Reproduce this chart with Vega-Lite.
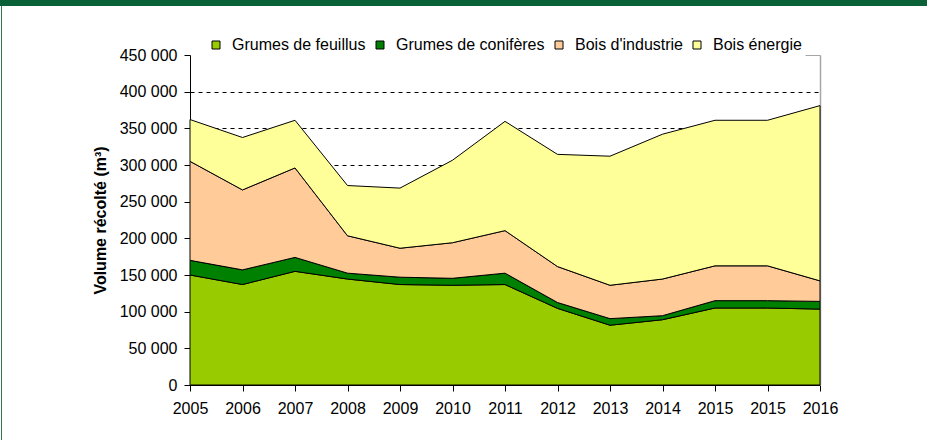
{
  "$schema": "https://vega.github.io/schema/vega-lite/v6.json",
  "padding": 0,
  "background": "white",
  "spacing": 0,
  "bounds": "flush",
  "config": {
    "font": "Liberation Sans",
    "locale": {"number": {"decimal": ",", "thousands": " ", "grouping": [3], "currency": ["", " €"]}},
    "view": {"stroke": null},
    "axis": {"labelFont": "Liberation Sans", "titleFont": "Liberation Sans", "labelColor": "black", "titleColor": "black", "labelFontSize": 16, "titleFontSize": 16, "domainColor": "black", "tickColor": "black"}
  },
  "datasets": {
    "vol": [
      {"periode": "2005", "type": "Grumes de feuillus", "ordre": 1, "volume": 150000},
      {"periode": "2005", "type": "Grumes de conifères", "ordre": 2, "volume": 20000},
      {"periode": "2005", "type": "Bois d'industrie", "ordre": 3, "volume": 135000},
      {"periode": "2005", "type": "Bois énergie", "ordre": 4, "volume": 57000},
      {"periode": "2006", "type": "Grumes de feuillus", "ordre": 1, "volume": 137000},
      {"periode": "2006", "type": "Grumes de conifères", "ordre": 2, "volume": 20000},
      {"periode": "2006", "type": "Bois d'industrie", "ordre": 3, "volume": 109000},
      {"periode": "2006", "type": "Bois énergie", "ordre": 4, "volume": 71500},
      {"periode": "2007", "type": "Grumes de feuillus", "ordre": 1, "volume": 155000},
      {"periode": "2007", "type": "Grumes de conifères", "ordre": 2, "volume": 19000},
      {"periode": "2007", "type": "Bois d'industrie", "ordre": 3, "volume": 122000},
      {"periode": "2007", "type": "Bois énergie", "ordre": 4, "volume": 65000},
      {"periode": "2008", "type": "Grumes de feuillus", "ordre": 1, "volume": 144500},
      {"periode": "2008", "type": "Grumes de conifères", "ordre": 2, "volume": 8000},
      {"periode": "2008", "type": "Bois d'industrie", "ordre": 3, "volume": 51000},
      {"periode": "2008", "type": "Bois énergie", "ordre": 4, "volume": 68500},
      {"periode": "2009", "type": "Grumes de feuillus", "ordre": 1, "volume": 137000},
      {"periode": "2009", "type": "Grumes de conifères", "ordre": 2, "volume": 10000},
      {"periode": "2009", "type": "Bois d'industrie", "ordre": 3, "volume": 39500},
      {"periode": "2009", "type": "Bois énergie", "ordre": 4, "volume": 82000},
      {"periode": "2010", "type": "Grumes de feuillus", "ordre": 1, "volume": 136000},
      {"periode": "2010", "type": "Grumes de conifères", "ordre": 2, "volume": 9500},
      {"periode": "2010", "type": "Bois d'industrie", "ordre": 3, "volume": 48500},
      {"periode": "2010", "type": "Bois énergie", "ordre": 4, "volume": 112500},
      {"periode": "2011", "type": "Grumes de feuillus", "ordre": 1, "volume": 137000},
      {"periode": "2011", "type": "Grumes de conifères", "ordre": 2, "volume": 15500},
      {"periode": "2011", "type": "Bois d'industrie", "ordre": 3, "volume": 58000},
      {"periode": "2011", "type": "Bois énergie", "ordre": 4, "volume": 149000},
      {"periode": "2012", "type": "Grumes de feuillus", "ordre": 1, "volume": 104500},
      {"periode": "2012", "type": "Grumes de conifères", "ordre": 2, "volume": 8000},
      {"periode": "2012", "type": "Bois d'industrie", "ordre": 3, "volume": 49000},
      {"periode": "2012", "type": "Bois énergie", "ordre": 4, "volume": 153000},
      {"periode": "2013", "type": "Grumes de feuillus", "ordre": 1, "volume": 81500},
      {"periode": "2013", "type": "Grumes de conifères", "ordre": 2, "volume": 9000},
      {"periode": "2013", "type": "Bois d'industrie", "ordre": 3, "volume": 45500},
      {"periode": "2013", "type": "Bois énergie", "ordre": 4, "volume": 176000},
      {"periode": "2014", "type": "Grumes de feuillus", "ordre": 1, "volume": 89000},
      {"periode": "2014", "type": "Grumes de conifères", "ordre": 2, "volume": 5500},
      {"periode": "2014", "type": "Bois d'industrie", "ordre": 3, "volume": 50000},
      {"periode": "2014", "type": "Bois énergie", "ordre": 4, "volume": 197500},
      {"periode": "2015", "type": "Grumes de feuillus", "ordre": 1, "volume": 105000},
      {"periode": "2015", "type": "Grumes de conifères", "ordre": 2, "volume": 10000},
      {"periode": "2015", "type": "Bois d'industrie", "ordre": 3, "volume": 47500},
      {"periode": "2015", "type": "Bois énergie", "ordre": 4, "volume": 198500},
      {"periode": "2015 (2)", "type": "Grumes de feuillus", "ordre": 1, "volume": 105000},
      {"periode": "2015 (2)", "type": "Grumes de conifères", "ordre": 2, "volume": 10000},
      {"periode": "2015 (2)", "type": "Bois d'industrie", "ordre": 3, "volume": 47500},
      {"periode": "2015 (2)", "type": "Bois énergie", "ordre": 4, "volume": 198500},
      {"periode": "2016", "type": "Grumes de feuillus", "ordre": 1, "volume": 103500},
      {"periode": "2016", "type": "Grumes de conifères", "ordre": 2, "volume": 10500},
      {"periode": "2016", "type": "Bois d'industrie", "ordre": 3, "volume": 28000},
      {"periode": "2016", "type": "Bois énergie", "ordre": 4, "volume": 239000}
    ]
  },
  "vconcat": [
    {
      "data": {"values": []},
      "mark": "point",
      "width": 927,
      "height": 6,
      "view": {"fill": "#0A6138", "stroke": null}
    },
    {
      "spacing": 0,
      "bounds": "flush",
      "hconcat": [
        {"data": {"values": []}, "mark": "point", "width": 1, "height": 434, "view": {"stroke": null}},
        {"data": {"values": []}, "mark": "point", "width": 1, "height": 434, "view": {"fill": "#2E7A4E", "stroke": null}},
        {
          "spacing": 0,
          "bounds": "flush",
          "vconcat": [
            {"data": {"values": []}, "mark": "point", "width": 1, "height": 49, "view": {"stroke": null}},
            {
              "spacing": 0,
              "bounds": "flush",
              "hconcat": [
                {"data": {"values": []}, "mark": "point", "width": 188, "height": 330, "view": {"stroke": null}},
                {
                  "data": {"name": "vol"},
                  "width": 630,
                  "height": 330,
                  "encoding": {
                    "x": {
                      "field": "periode", "type": "ordinal", "sort": null,
                      "scale": {"type": "point", "padding": 0},
                      "axis": {"title": null, "labelAngle": 0, "tickSize": 6, "labelPadding": 9, "labelExpr": "substring(datum.value, 0, 4)", "grid": false}
                    }
                  },
                  "layer": [
                    {
                      "mark": {"type": "area", "stroke": "black", "strokeWidth": 1, "interpolate": "linear"},
                      "encoding": {
                        "y": {
                          "field": "volume", "type": "quantitative", "stack": "zero",
                          "scale": {"domain": [0, 450000], "nice": false, "zero": true},
                          "axis": {
                            "title": "Volume récolté (m³)", "titleFontWeight": "bold", "titlePadding": 11,
                            "format": ",d", "values": [0, 50000, 100000, 150000, 200000, 250000, 300000, 350000, 400000, 450000],
                            "labelOverlap": false,
                            "tickSize": 6, "labelPadding": 7,
                            "grid": true, "gridColor": "black", "gridDash": [4, 4], "gridWidth": 1,
                            "gridOpacity": {"condition": {"test": "datum.value >= 450000", "value": 0}, "value": 1}
                          }
                        },
                        "color": {
                          "field": "type", "type": "nominal",
                          "scale": {
                            "domain": ["Grumes de feuillus", "Grumes de conifères", "Bois d'industrie", "Bois énergie"],
                            "range": ["#99CC00", "#008000", "#FFCC99", "#FFFF99"]
                          },
                          "legend": {
                            "title": null, "orient": "none", "legendX": 208, "legendY": 37, "direction": "horizontal",
                            "symbolType": "square", "symbolSize": 64, "symbolStrokeColor": "black", "symbolStrokeWidth": 1,
                            "symbolOpacity": 1, "labelFontSize": 16, "labelColor": "black", "labelOffset": 8, "columnPadding": 6, "padding": 0
                          }
                        },
                        "order": {"field": "ordre", "type": "quantitative"}
                      }
                    },
                    {
                      "mark": {"type": "point", "opacity": 0},
                      "encoding": {
                        "y": {
                          "field": "volume", "type": "quantitative",
                          "scale": {"domain": [0, 450000], "nice": false, "zero": true},
                          "axis": {"orient": "right", "title": null, "labels": false, "ticks": true, "values": [450000], "tickSize": -15, "tickColor": "#A6A6A6", "grid": false, "domainColor": "#A6A6A6", "domainWidth": 1.5}
                        }
                      }
                    }
                  ],
                  "resolve": {"axis": {"y": "independent"}}
                }
              ]
            }
          ]
        }
      ]
    }
  ]
}
